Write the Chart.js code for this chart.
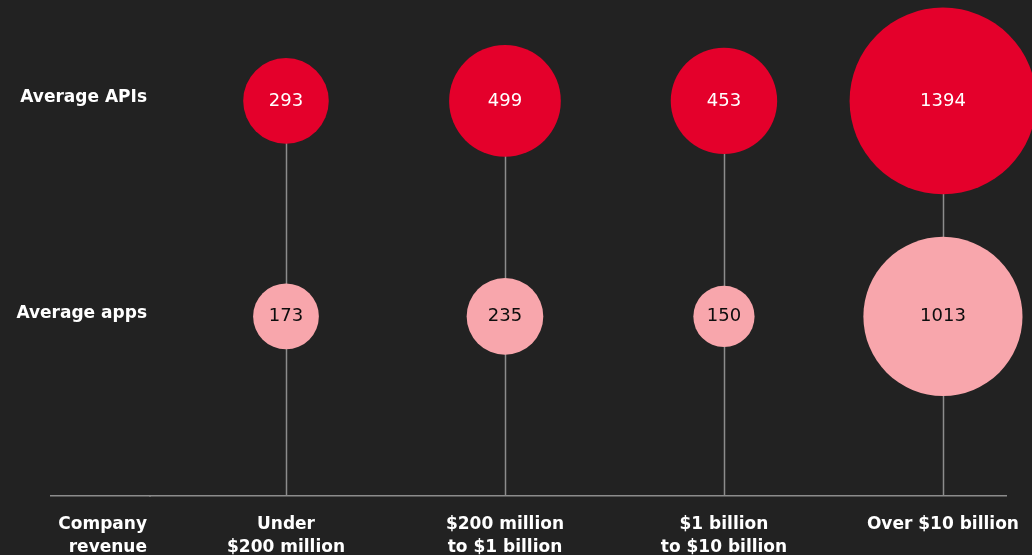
<!DOCTYPE html>
<html>
<head>
<meta charset="utf-8">
<script src="https://cdn.jsdelivr.net/npm/chart.js@4.4.0/dist/chart.umd.min.js"></script>
<style>
  html, body { margin: 0; padding: 0; background: #222222; }
  #wrap { width: 1032px; height: 555px; }
</style>
</head>
<body>
<div id="wrap"><canvas id="myChart" width="1032" height="555"></canvas></div>
<script>
// categories along the bottom
var revenueBands = [["Under", "$200 million"], ["$200 million", "to $1 billion"], ["$1 billion", "to $10 billion"], ["Over $10 billion"]];
var axisTitle = ["Company", "revenue"];
var rowLabels = ["Average APIs", "Average apps"];

// series values
var avgApis = [293, 499, 453, 1394];
var avgApps = [173, 235, 150, 1013];

var RED = '#e4002b';
var PINK = '#f8a6ac';
var LINE = '#8c8c8c';
var FONT = '"DejaVu Sans", sans-serif';
var TICK_PAD = 17;

// bubble area follows the value
function bubbleRadius(v) {
  return 2.5 * Math.sqrt(v);
}

// row 2 = APIs, row 1 = apps
function toPoints(values, row) {
  return values.map(function(v, i) {
    return { x: i + 1, y: row, r: bubbleRadius(v), v: v };
  });
}

// stems from the API bubble down to the axis, plus the axis line running under the row labels
var stemsPlugin = {
  id: 'stems',
  beforeDatasetsDraw: function(chart) {
    var ctx = chart.ctx, xs = chart.scales.x, ys = chart.scales.y, area = chart.chartArea;
    var by = Math.round(area.bottom - 0.75) + 0.75;
    ctx.save();
    ctx.strokeStyle = LINE;
    ctx.lineWidth = 1.5;
    for (var i = 0; i < revenueBands.length; i++) {
      var px = Math.round(xs.getPixelForValue(i + 1)) + 0.5;
      ctx.beginPath();
      ctx.moveTo(px, ys.getPixelForValue(2));
      ctx.lineTo(px, by);
      ctx.stroke();
    }
    ctx.beginPath();
    ctx.moveTo(50, by);
    ctx.lineTo(area.left + 1, by);
    ctx.stroke();
    ctx.restore();
  }
};

// numbers inside the bubbles and the "Company revenue" heading
var labelsPlugin = {
  id: 'bubbleLabels',
  afterDatasetsDraw: function(chart) {
    var ctx = chart.ctx;
    ctx.save();
    ctx.font = '18px ' + FONT;
    ctx.textAlign = 'center';
    ctx.textBaseline = 'middle';
    chart.data.datasets.forEach(function(ds, di) {
      var meta = chart.getDatasetMeta(di);
      ctx.fillStyle = di == 0 ? '#ffffff' : '#0d0d0d';
      meta.data.forEach(function(el, i) {
        ctx.fillText(String(ds.data[i].v), el.x, el.y);
      });
    });
    var xs = chart.scales.x;
    ctx.font = 'bold 17px ' + FONT;
    ctx.fillStyle = '#ffffff';
    ctx.textAlign = 'right';
    ctx.textBaseline = 'middle';
    axisTitle.forEach(function(t, k) {
      ctx.fillText(t, chart.chartArea.left - 3, xs.top + TICK_PAD + 11.5 + k * 23);
    });
    ctx.restore();
  }
};

var ctx = document.getElementById('myChart').getContext('2d');
var myChart = new Chart(ctx, {
  type: 'bubble',
  data: {
    datasets: [
      {
        label: rowLabels[0],
        data: toPoints(avgApis, 2),
        backgroundColor: RED,
        borderWidth: 0,
        hoverBorderWidth: 0,
        clip: false
      },
      {
        label: rowLabels[1],
        data: toPoints(avgApps, 1),
        backgroundColor: PINK,
        borderWidth: 0,
        hoverBorderWidth: 0,
        clip: false
      }
    ]
  },
  options: {
    responsive: false,
    animation: false,
    layout: { autoPadding: false, padding: { top: 0, right: 26, left: 0, bottom: 0 } },
    plugins: {
      legend: { display: false },
      tooltip: { enabled: false }
    },
    scales: {
      x: {
        type: 'linear',
        min: 0.379,
        max: 4.288,
        afterBuildTicks: function(scale) {
          scale.ticks = revenueBands.map(function(b, i) { return { value: i + 1 }; });
        },
        afterFit: function(scale) {
          scale.height = 59;
          scale.paddingLeft = 0;
          scale.paddingRight = 0;
        },
        grid: { display: false, drawTicks: false },
        border: { display: true, color: LINE, width: 1.5 },
        ticks: {
          color: '#ffffff',
          font: { family: FONT, size: 17, weight: 'bold', lineHeight: '23px' },
          padding: TICK_PAD,
          maxRotation: 0,
          autoSkip: false,
          callback: function(value) { return revenueBands[value - 1]; }
        }
      },
      y: {
        type: 'linear',
        min: 1 / 6,
        max: 2.407,
        afterBuildTicks: function(scale) {
          scale.ticks = [{ value: 1 }, { value: 2 }];
        },
        afterFit: function(scale) {
          scale.width = 150;
        },
        grid: { display: false, drawTicks: false },
        border: { display: false },
        ticks: {
          color: '#ffffff',
          font: { family: FONT, size: 17, weight: 'bold' },
          padding: 3,
          labelOffset: -3,
          callback: function(value) { return value == 2 ? rowLabels[0] : rowLabels[1]; }
        }
      }
    }
  },
  plugins: [stemsPlugin, labelsPlugin]
});
</script>
</body>
</html>
